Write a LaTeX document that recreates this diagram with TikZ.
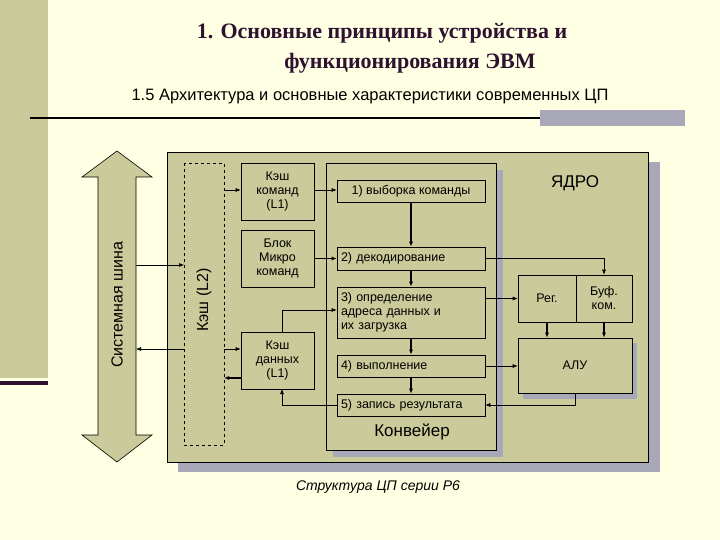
\documentclass[tikz,border=0pt]{standalone}
\usepackage{fontspec}
\setmainfont{Liberation Sans}
\newfontfamily\titlefont{Liberation Serif}
\usetikzlibrary{arrows.meta}
\definecolor{bgc}{HTML}{FFFFE4}
\definecolor{olive}{HTML}{CACA9A}
\definecolor{dpur}{HTML}{2E1230}
\definecolor{shad}{HTML}{A8A8B8}
\begin{document}
\begin{tikzpicture}[x=1pt,y=-1pt,
  box/.style={draw=black,fill=olive,line width=0.6pt,inner sep=0pt},
  lbl/.style={font=\fontsize{12.5}{14}\selectfont,align=center},
  arr/.style={-{Latex[length=5pt,width=4pt]},line width=0.6pt},
  thk/.style={-{Latex[length=5pt,width=4pt]},line width=1.2pt}]
\useasboundingbox (0,0) rectangle (720,540);
\fill[bgc] (0,0) rectangle (720,540);
\fill[olive] (0,0) rectangle (48,378);
\fill[dpur] (0,381) rectangle (48,385);
\node[font=\titlefont\bfseries\fontsize{22}{24}\selectfont,text=dpur] (t1) at (382,33) {1. Основные принципы устройства и};
\node[font=\titlefont\bfseries\fontsize{22}{24}\selectfont,text=dpur] (t2) at (410,63) {функционирования ЭВМ};
\node[font=\fontsize{16.5}{18}\selectfont] (sub) at (370,97) {1.5 Архитектура и основные характеристики современных ЦП};
\fill[shad] (540,110) rectangle (685,126);
\draw[line width=1.5pt] (30,118) -- (540,118);
% bus
\draw[fill=olive,line width=0.6pt] (117,151) -- (152,177) -- (136,177) -- (136,435) -- (152,435) -- (117,462) -- (82,435) -- (98,435) -- (98,177) -- (82,177) -- cycle;
\node[rotate=90,font=\fontsize{16}{18}\selectfont] (bus) at (117,305) {Системная шина};
% main
\fill[shad] (178,162) rectangle (660,472);
\draw[box] (167,152) rectangle (648,462);
\node[font=\fontsize{17}{19}\selectfont] (core) at (575,183) {ЯДРО};
\draw[box,dashed] (184,163) rectangle (224,445);
\node[rotate=90,font=\fontsize{16}{18}\selectfont] (l2) at (204,300) {Кэш (L2)};
\node[box,lbl,minimum width=73pt,minimum height=57pt] (kc) at (277.5,191.5) {Кэш\\команд\\(L1)};
\node[box,lbl,minimum width=73pt,minimum height=57pt] (bm) at (277.5,258.5) {Блок\\Микро\\команд};
\node[box,lbl,minimum width=73pt,minimum height=57pt] (kd) at (277.5,360.5) {Кэш\\данных\\(L1)};
\coordinate (kdt) at (282,332);
\coordinate (kdb) at (282,389);
% conveyor
\fill[shad] (333,170) rectangle (503,457);
\draw[box] (326,163) rectangle (496,450);
\node[font=\fontsize{17}{19}\selectfont] (conv) at (412,432) {Конвейер};
\node[box,lbl,minimum width=148pt,minimum height=22pt] (s1) at (411,191) {1) выборка команды};
\node[box,lbl,minimum width=148pt,minimum height=23pt,text width=140pt,align=left] (s2) at (411,258.5) {2) декодирование};
\node[box,lbl,minimum width=148pt,minimum height=51pt,text width=140pt,align=left] (s3) at (411,312.5) {3) определение\\адреса данных и\\их загрузка};
\node[box,lbl,minimum width=148pt,minimum height=22pt,text width=140pt,align=left] (s4) at (411,366) {4) выполнение};
\node[box,lbl,minimum width=148pt,minimum height=22pt,text width=140pt,align=left] (s5) at (411,405) {5) запись результата};
% core units
\node[box,lbl,minimum width=58pt,minimum height=47pt] (reg) at (547,298.5) {Рег.};
\node[box,lbl,minimum width=56pt,minimum height=47pt] (buf) at (604,298.5) {Буф.\\ком.};
\fill[shad] (523,343) rectangle (637,399);
\node[box,lbl,minimum width=114pt,minimum height=55pt] (alu) at (575,365.5) {АЛУ};
% arrows
\draw[thk] (s1.south) -- (s2.north);
\draw[thk] (s2.south) -- (s3.north);
\draw[thk] (s3.south) -- (s4.north);
\draw[thk] (s4.south) -- (s5.north);
\draw[arr] (s2.east) -- (604,258.5) -- (buf.north);
\draw[arr] (s3.east|-reg) -- (reg.west);
\draw[arr] (s4.east) -- (alu.west|-s4.east);
\draw[arr] (alu.south) -- (575,405) -- (s5.east);
\draw[thk] (reg.south) -- (reg.south|-alu.north);
\draw[thk] (buf.south) -- (buf.south|-alu.north);
\draw[arr] (136,265) -- (184,265);
\draw[arr] (184,349) -- (136,349);
\draw[arr] (224,190) -- (kc.west|-224,190);
\draw[arr] (kc.east|-0,190) -- (s1.west|-0,190);
\draw[thk] (bm.east|-s2) -- (s2.west);
\draw[arr] (kdt) -- (282,310) -- (s3.west|-0,310);
\draw[arr] (224,349) -- (kd.west|-0,349);
\draw[thk] (kd.west|-0,378) -- (224,378);
\draw[arr] (s5.west) -- (282,405) -- (kdb);
\node[font=\itshape\fontsize{14}{16}\selectfont] (cap) at (378,487) {Структура ЦП серии P6};
\end{tikzpicture}
\end{document}
